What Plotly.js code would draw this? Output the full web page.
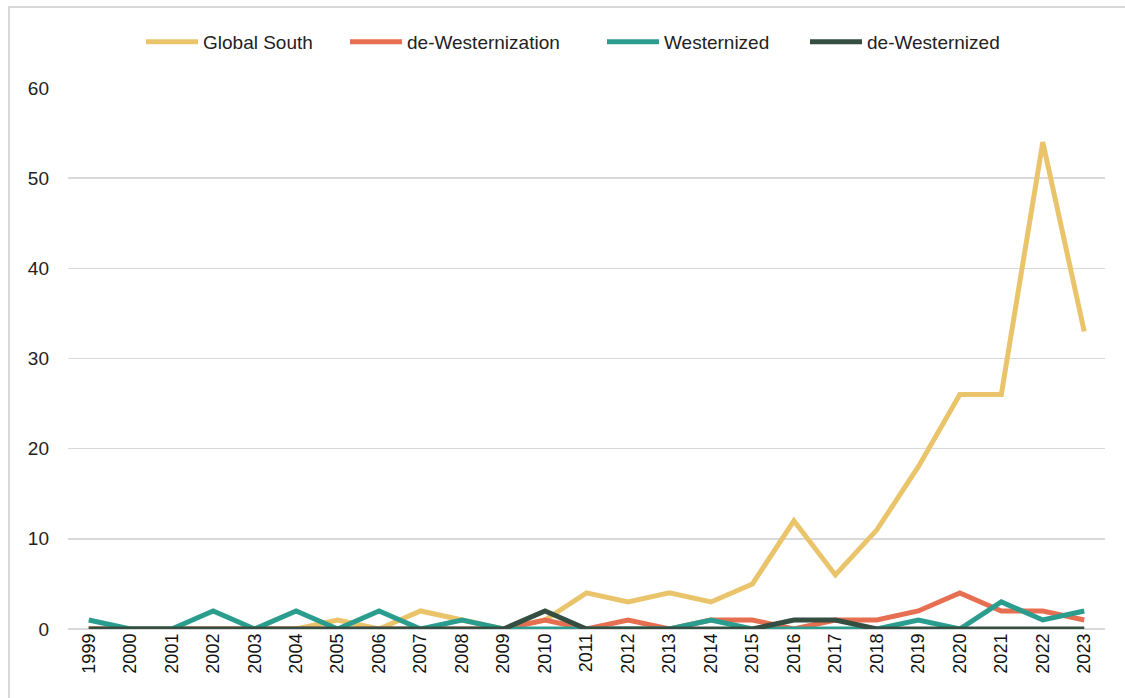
<!DOCTYPE html>
<html>
<head>
<meta charset="utf-8">
<script src="https://cdn.plot.ly/plotly-3.0.1.min.js"></script>
<style>
  html, body { margin: 0; padding: 0; background: #fff; }
  #chart { position: absolute; left: 0; top: 0; width: 1125px; height: 698px; }
  #frame { position: absolute; left: 8px; top: 6px; width: 1130px; height: 700px;
           border-left: 2px solid #d9d9d9; border-top: 2px solid #d9d9d9; pointer-events: none; }
</style>
</head>
<body>
<div id="chart"></div>
<div id="frame"></div>
<script>
const years = ["1999","2000","2001","2002","2003","2004","2005","2006","2007","2008","2009","2010","2011","2012","2013","2014","2015","2016","2017","2018","2019","2020","2021","2022","2023"];
const globalSouth       = [0,0,0,0,0,0,1,0,2,1,0,1,4,3,4,3,5,12,6,11,18,26,26,54,33];
const deWesternization  = [0,0,0,0,0,0,0,0,0,0,0,1,0,1,0,1,1,0,1,1,2,4,2,2,1];
const westernized       = [1,0,0,2,0,2,0,2,0,1,0,0,0,0,0,1,0,0,0,0,1,0,3,1,2];
const deWesternized     = [0,0,0,0,0,0,0,0,0,0,0,2,0,0,0,0,0,1,1,0,0,0,0,0,0];
const yTicks = [0,10,20,30,40,50,60];

const legendIds = ['legend', 'legend2', 'legend3', 'legend4'];
const legendStartPx = [146, 350, 607, 810];

const mk = (name, y, color, i) => ({
  type: 'scatter', mode: 'lines', name: name, x: years, y: y,
  line: { color: color, width: 5, shape: 'linear' },
  legend: legendIds[i], showlegend: true,
  hoverinfo: 'x+y+name'
});

const data = [
  mk('Global South', globalSouth, '#EAC46B', 0),
  mk('de-Westernization', deWesternization, '#E76F51', 1),
  mk('Westernized', westernized, '#2A9D8F', 2),
  mk('de-Westernized', deWesternized, '#344E41', 3)
];

const layout = {
  width: 1125, height: 698,
  margin: { l: 68, r: 20, t: 88, b: 69 },
  paper_bgcolor: '#ffffff', plot_bgcolor: '#ffffff',
  font: { family: 'Liberation Sans, Arial, sans-serif', color: '#222', size: 17 },
  showlegend: true,
  xaxis: {
    type: 'category', range: [-0.5, 24.5], tickangle: -90,
    showgrid: false, zeroline: false, showline: false, ticks: '',
    tickfont: { size: 18, color: '#111' }, fixedrange: true
  },
  yaxis: {
    range: [0, 60], tickvals: yTicks, ticktext: yTicks.map(String),
    showgrid: true, gridcolor: '#d9d9d9', gridwidth: 1.5,
    zeroline: true, zerolinecolor: '#d9d9d9', zerolinewidth: 1.5,
    showline: false, ticks: '', ticklabelstandoff: 18,
    tickfont: { size: 19, color: '#222' }, fixedrange: true
  }
};

legendIds.forEach((id, i) => {
  layout[id] = {
    orientation: 'h', xref: 'container', yref: 'container',
    x: (legendStartPx[i] - 5) / 1125, xanchor: 'left',
    y: 1 - 42/698, yanchor: 'middle',
    font: { family: 'Liberation Sans, Arial, sans-serif', size: 19, color: '#222' },
    itemwidth: 52, bgcolor: 'rgba(0,0,0,0)'
  };
});

Plotly.newPlot('chart', data, layout, { displayModeBar: false, staticPlot: true });
</script>
</body>
</html>
